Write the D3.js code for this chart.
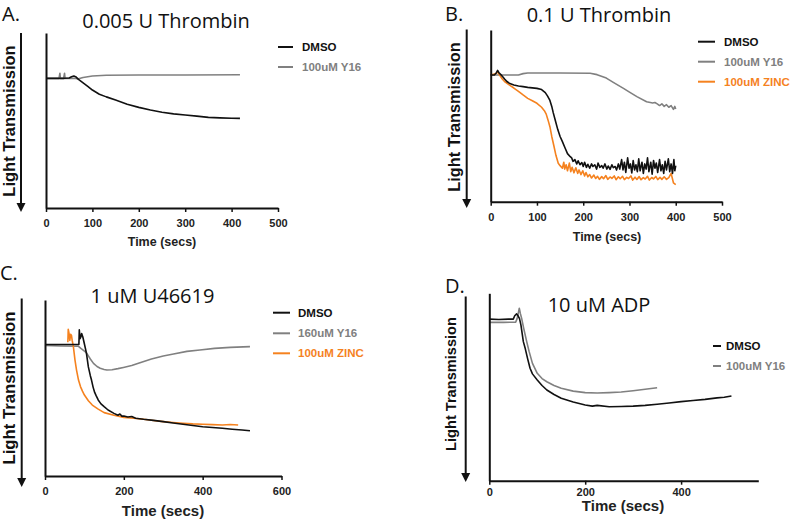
<!DOCTYPE html>
<html><head><meta charset="utf-8">
<script src="https://cdn.jsdelivr.net/npm/d3@7"></script>
<style>body{margin:0;background:#fff}svg{display:block}</style>
</head><body>
<script>
// ---------- DATA ----------
const A_TITLE = "0.005 U Thrombin";
const B_TITLE = "0.1 U Thrombin";
const C_TITLE = "1 uM U46619";
const D_TITLE = "10 uM ADP";
const Y_LABEL = "Light Transmission";
const X_LABEL = "Time (secs)";

const A_XTICKS = [0,100,200,300,400,500];
const B_XTICKS = [0,100,200,300,400,500];
const C_XTICKS = [0,200,400,600];
const D_XTICKS = [0,200,400];

const A_NAMES = ["DMSO","100uM Y16"];
const B_NAMES = ["DMSO","100uM Y16","100uM ZINC"];
const C_NAMES = ["DMSO","160uM Y16","100uM ZINC"];
const D_NAMES = ["DMSO","100uM Y16"];

const A_DMSO = [[0,74.1],[20,74.1],[40,74.1],[50,74.3],[55,75],[60,75.4],[65,74.8],[70,73.5],[80,71.5],[90,69.5],[100,67.4],[115,65],[130,63.5],[150,61.7],[175,59.3],[200,57.5],[225,56],[250,54.7],[275,53.8],[300,53.1],[325,52.5],[350,51.8],[375,51.5],[400,51.3],[418,51.2]];
const A_Y16 = [[0,74.1],[28,74.1],[30,77],[31,74.1],[38,74.1],[40,77],[41,74.1],[50,74.1],[60,74.1],[70,73.8],[80,74.6],[100,75.4],[130,75.9],[200,76],[300,76],[418,76.1]];

const B_DMSO = [[0,73.8],[8,73.8],[12,75],[15,76.5],[18,75],[22,74],[26,72.8],[30,71.5],[35,70],[40,69],[50,68],[60,67.4],[70,67],[80,66.6],[90,66.3],[100,66],[110,65.3],[118,63.5],[123,61.5],[128,59],[132,55.5],[135,52],[140,47],[145,42],[150,38],[155,35],[161,31.1],[166,28],[172,26.2],[175,25.5],[178,23.5],[182,24.5],[186,22],[189,23.8],[193,21.5],[197,22.8],[200,20.5],[203,23],[207,20],[210,21.8],[214,19.5],[218,22],[221,20.5],[225,21.5],[229,19],[232,22.5],[236,20],[240,21],[243,19.5],[247,22],[251,19],[254,20.8],[258,18.8],[262,21.5],[265,19.8],[269,20.5],[272,18.5],[276,22],[279,19],[283,24.5],[286,18.5],[289,23],[292,17],[296,25.5],[299,19.5],[302,22],[305,16.8],[308,24],[311,18.5],[314,21.5],[317,17.5],[320,25],[323,18],[327,23],[330,16.5],[333,22],[336,19],[339,25.5],[342,17.5],[346,23],[349,16],[352,24],[355,19.5],[358,22.5],[361,17],[365,24.5],[368,18],[371,21.5],[374,16.5],[377,23.5],[380,18.5],[384,25],[387,17.5],[390,22],[393,16.5],[396,24.5],[398,18],[400,21]];
const B_Y16 = [[0,73.8],[20,73.8],[60,73.8],[70,74.6],[80,75],[150,75],[215,74.8],[230,74],[250,72],[265,69.5],[287,66],[300,63.8],[316,61.2],[337,58.2],[345,57.8],[350,57.5],[355,57.8],[360,57],[365,56],[370,57],[375,55.5],[380,56.5],[385,55],[390,56],[395,53.8],[398,55.5],[400,54]];
const B_ZINC = [[0,73.8],[10,74.5],[15,75.5],[20,73.5],[25,71.5],[30,70],[40,68],[50,66.2],[60,64.3],[70,62.2],[80,60.2],[90,58.8],[100,57.3],[110,55],[116,53],[120,51],[124,47.5],[128,43.7],[132,38],[137,32],[141,27],[146,22.4],[150,21],[155,19.5],[158,23],[160,19],[163,21.5],[166,18],[170,22.5],[173,17.5],[176,20],[180,16.8],[184,19.8],[188,16.5],[191,18.5],[195,15.8],[199,18],[203,15],[206,17],[210,14.5],[214,15.8],[218,13.8],[223,15.5],[227,13.5],[231,14.8],[235,13],[240,14.6],[244,13.4],[249,15.2],[253,13],[258,14.4],[262,13.6],[267,15],[271,12.8],[276,14.5],[280,13.4],[285,14.8],[289,12.9],[294,14.2],[298,13.5],[303,15],[307,12.6],[312,14.3],[316,13],[321,14.6],[325,12.8],[330,14],[334,13.2],[339,14.8],[343,12.6],[348,14.1],[352,13.3],[357,14.7],[361,12.9],[366,14.2],[370,13],[375,14.5],[380,13],[385,14],[390,16.5],[395,11],[400,10]];

const C_DMSO = [[0,74.7],[40,74.7],[80,74.7],[86,74.7],[87,83],[89,78],[91,79],[93,81],[96,79],[100,75],[105,70],[110,62],[115,57],[118,54.5],[122,50.5],[126,47.5],[130,45.5],[135,43.2],[142,41],[150,39.4],[160,37.5],[175,35.6],[185,34.5],[190,35.2],[195,34],[200,34.1],[210,33.5],[220,33.8],[230,32.8],[250,32.2],[275,31.6],[300,30.9],[325,30.1],[350,29.4],[375,28.7],[400,28],[425,27.6],[450,27.1],[475,26.6],[500,26.1],[520,25.7]];
const C_Y16 = [[0,74.2],[40,73.9],[85,73.7],[91,72.5],[100,71],[106,69.7],[115,66.5],[123,64],[132,62.2],[140,61.2],[150,60.5],[157,60.2],[170,60.4],[185,61],[199,61.7],[220,62.8],[241,64.4],[270,66.5],[300,68.2],[326,69.3],[360,70.8],[393,71.6],[430,72.5],[470,73.1],[520,73.5]];
const C_ZINC = [[58,76],[59,83.3],[61,81],[63,77],[65,80.5],[67,80],[69,77],[72,73.5],[76,66],[80,60.2],[85,54.5],[90,50.8],[95,48.2],[100,46],[110,42.8],[120,40.3],[135,38],[150,36],[175,34.5],[200,33.3],[225,32.8],[250,32.2],[275,31.5],[300,30.9],[325,30.4],[350,30],[375,29.6],[400,29.4],[425,29.2],[450,29],[470,29.3],[490,29]];

const D_DMSO = [[0,86.2],[20,86],[40,86.2],[50,86.2],[53,88],[57,89],[60,88],[63,86.5],[66,83],[71,74.2],[75,70.5],[80,65],[85,60],[90,57],[100,53.7],[110,50.8],[120,48.4],[135,46],[150,44],[175,42],[200,40.4],[215,39.8],[225,40.2],[250,39.5],[275,39.6],[300,39.8],[325,40.2],[350,40.8],[375,41.5],[400,42.2],[425,42.8],[450,43.4],[475,44.2],[490,44.5],[505,45.2]];
const D_Y16 = [[0,84.5],[30,84.5],[55,84.6],[58,86.5],[62.6,92],[65,89],[68,86],[72,81],[78,74.2],[83,69],[90,62.6],[100,57.3],[110,54.5],[120,52.8],[135,50.8],[150,49.3],[175,47.8],[200,47],[225,46.8],[250,47],[275,47.3],[300,48],[325,48.8],[350,49.6]];

// ---------- STYLE ----------
const BLACK = "#111111", GRAY = "#808080", ORANGE = "#f5821f";
const TITLE_FONT = "'Open Sans', Lato, sans-serif";
const BOLD_FONT = "'Liberation Sans', Arial, sans-serif";

const W = 800, H = 522;
const svg = d3.select("body").append("svg").attr("width", W).attr("height", H);

const panels = [
  {letter:"A.", letterX:2, letterY:21, title:A_TITLE, titleX:166, titleY:28,
   left:46, right:278, top:33, bottom:208, xMax:500, ticks:A_XTICKS, tickBase:226.5,
   arrowX:21, arrowTop:33, arrowTip:212, ylabX:9, ylabY:121, ylabSize:16.5,
   timeX:162, timeY:246, timeSize:12.5,
   legX1:278, legX2:293, legTX:302, legY:[47,67], legSize:11.5,
   series:[{d:A_DMSO,c:BLACK,n:A_NAMES[0]},{d:A_Y16,c:GRAY,n:A_NAMES[1]}]},
  {letter:"B.", letterX:445, letterY:21, title:B_TITLE, titleX:599, titleY:22,
   left:490.7, right:722, top:30, bottom:201.7, xMax:500, ticks:B_XTICKS, tickBase:221.5,
   arrowX:466.7, arrowTop:29.5, arrowTip:208, ylabX:454, ylabY:117, ylabSize:16.3,
   timeX:607, timeY:241, timeSize:12.5,
   legX1:698, legX2:715, legTX:724, legY:[41.7,61.7,81.7], legSize:11.5,
   series:[{d:B_DMSO,c:BLACK,n:B_NAMES[0]},{d:B_Y16,c:GRAY,n:B_NAMES[1]},{d:B_ZINC,c:ORANGE,n:B_NAMES[2]}],
   order:[1,2,0]},
  {letter:"C.", letterX:0, letterY:280, title:C_TITLE, titleX:152.5, titleY:303,
   left:45, right:281.5, top:300, bottom:476, xMax:600, ticks:C_XTICKS, tickBase:495,
   arrowX:21.7, arrowTop:298.5, arrowTip:487, ylabX:9, ylabY:388, ylabSize:16.7,
   timeX:163, timeY:516, timeSize:15,
   legX1:273, legX2:290, legTX:298, legY:[312.7,333.3,353.3], legSize:11.5,
   series:[{d:C_DMSO,c:BLACK,n:C_NAMES[0]},{d:C_Y16,c:GRAY,n:C_NAMES[1]},{d:C_ZINC,c:ORANGE,n:C_NAMES[2]}],
   order:[1,2,0]},
  {letter:"D.", letterX:445, letterY:293, title:D_TITLE, titleX:599, titleY:311.7,
   left:489.3, right:758.3, top:293.3, bottom:480.7, xMax:561, ticks:D_XTICKS, tickBase:496,
   arrowX:465.7, arrowTop:296.5, arrowTip:482, ylabX:451, ylabY:384, ylabSize:14.6,
   timeX:623, timeY:511, timeSize:15,
   legX1:713, legX2:721, legTX:726, legY:[346,366], legSize:11.5,
   series:[{d:D_DMSO,c:BLACK,n:D_NAMES[0]},{d:D_Y16,c:GRAY,n:D_NAMES[1]}],
   order:[1,0]}
];

panels.forEach(p => {
  const g = svg.append("g");
  const x = d3.scaleLinear().domain([0, p.xMax]).range([p.left, p.right]);
  const y = d3.scaleLinear().domain([0, 100]).range([p.bottom, p.top]);

  g.append("text").attr("x", p.letterX).attr("y", p.letterY).text(p.letter)
    .attr("font-family", TITLE_FONT).attr("font-size", 20).attr("fill", "#111");
  g.append("text").attr("x", p.titleX).attr("y", p.titleY).text(p.title)
    .attr("text-anchor", "middle").attr("font-family", TITLE_FONT).attr("font-size", 20).attr("fill", "#111");

  const line = d3.line().x(d => x(d[0])).y(d => y(d[1]));
  const order = p.order || p.series.map((_, i) => i).reverse();
  order.forEach(i => {
    const s = p.series[i];
    g.append("path").datum(s.d).attr("d", line).attr("fill", "none")
      .attr("stroke", s.c).attr("stroke-width", 1.6).attr("stroke-linejoin", "round");
  });

  const xa = g.append("g").attr("transform", `translate(0,${p.bottom})`)
    .call(d3.axisBottom(x).tickValues(p.ticks).tickSize(4).tickSizeOuter(0).tickFormat(d3.format("d")));
  xa.select(".domain").attr("stroke", "#111").attr("stroke-width", 2);
  xa.selectAll(".tick line").attr("stroke", "#111").attr("stroke-width", 1.5);
  xa.selectAll(".tick text").attr("y", p.tickBase - p.bottom).attr("dy", 0)
    .attr("font-family", BOLD_FONT).attr("font-weight", "bold").attr("font-size", 11).attr("fill", "#222");
  const ya = g.append("g").attr("transform", `translate(${p.left},0)`)
    .call(d3.axisLeft(y).tickValues([]).tickSizeOuter(0));
  ya.select(".domain").attr("stroke", "#111").attr("stroke-width", 2);

  g.append("text").attr("x", p.timeX).attr("y", p.timeY).text(X_LABEL)
    .attr("text-anchor", "middle").attr("font-family", BOLD_FONT).attr("font-weight", "bold")
    .attr("font-size", p.timeSize).attr("fill", "#222");

  g.append("line").attr("x1", p.arrowX).attr("x2", p.arrowX).attr("y1", p.arrowTop).attr("y2", p.arrowTip - 6)
    .attr("stroke", "#111").attr("stroke-width", 2);
  g.append("path").attr("d", `M${p.arrowX-4.5},${p.arrowTip-9} L${p.arrowX+4.5},${p.arrowTip-9} L${p.arrowX},${p.arrowTip} Z`)
    .attr("fill", "#111");
  g.append("text").attr("transform", `translate(${p.ylabX},${p.ylabY}) rotate(-90)`)
    .attr("text-anchor", "middle").attr("dominant-baseline", "central").text(Y_LABEL)
    .attr("font-family", BOLD_FONT).attr("font-weight", "bold").attr("font-size", p.ylabSize).attr("fill", "#111");

  p.series.forEach((s, i) => {
    const ly = p.legY[i];
    g.append("line").attr("x1", p.legX1).attr("x2", p.legX2).attr("y1", ly).attr("y2", ly)
      .attr("stroke", s.c).attr("stroke-width", 2);
    g.append("text").attr("x", p.legTX).attr("y", ly).attr("dominant-baseline", "central").text(s.n)
      .attr("font-family", BOLD_FONT).attr("font-weight", "bold").attr("font-size", p.legSize)
      .attr("fill", s.c === BLACK ? "#111" : s.c);
  });
});
</script>
</body></html>
